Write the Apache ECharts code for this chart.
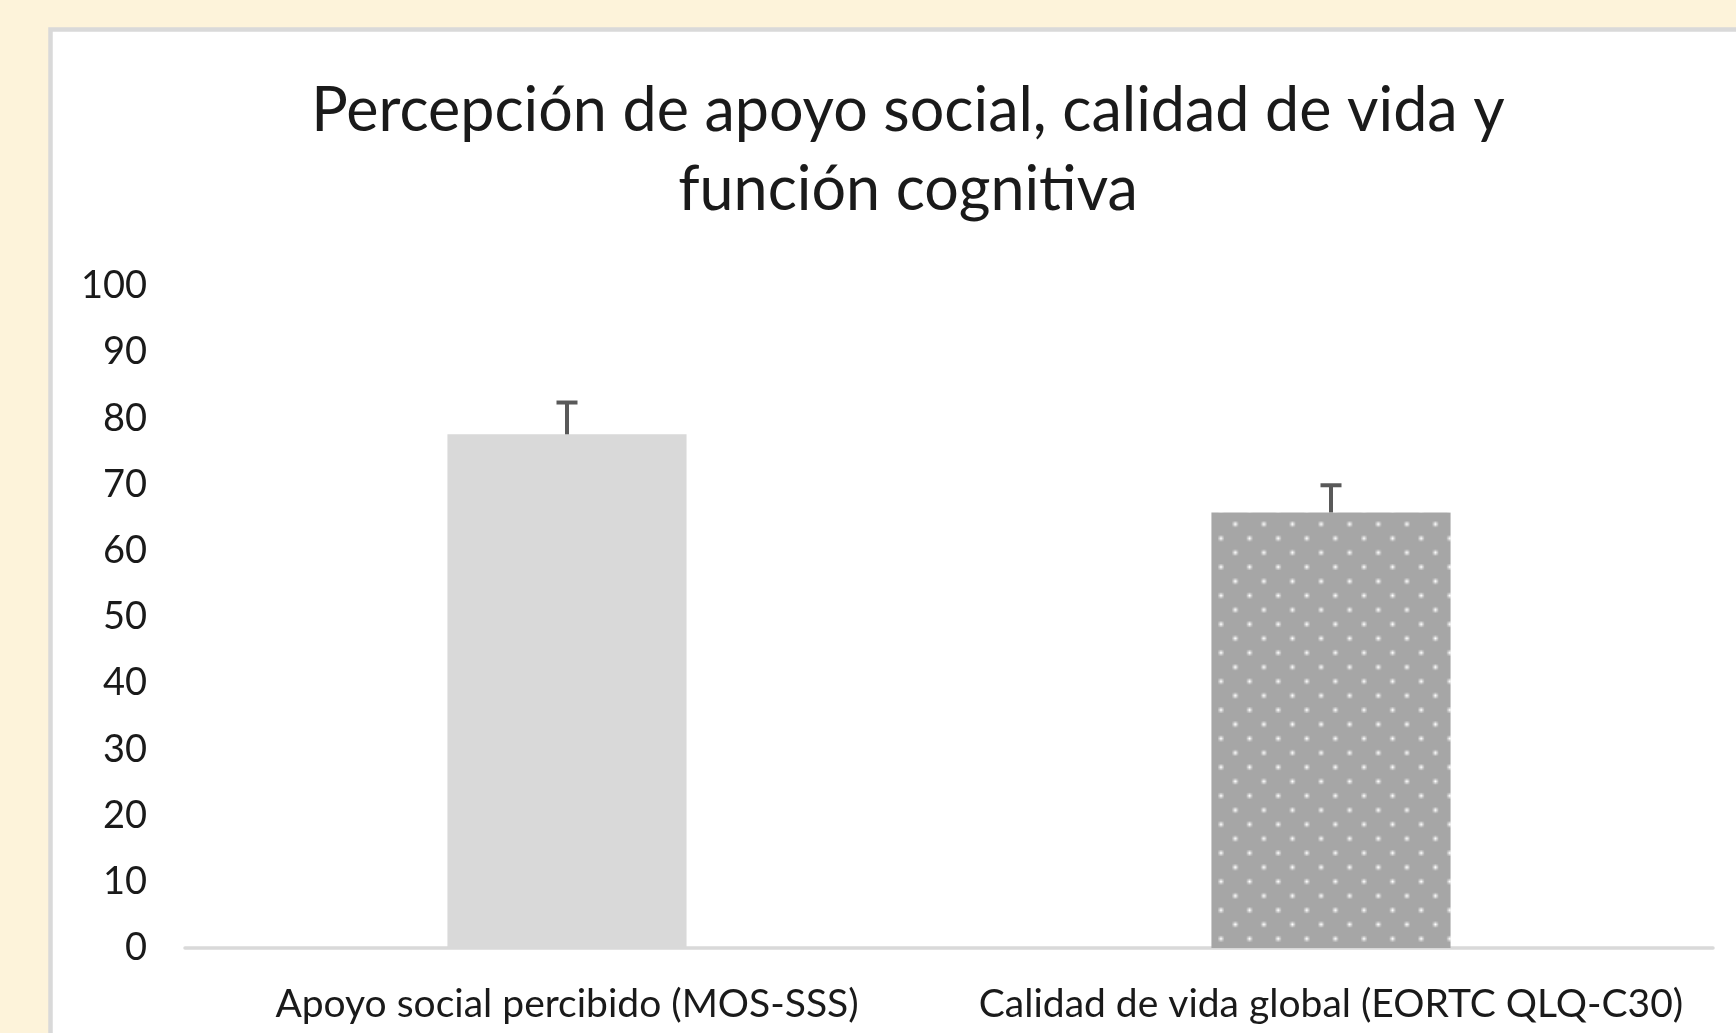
<!DOCTYPE html>
<html>
<head>
<meta charset="utf-8">
<script src="https://cdn.jsdelivr.net/npm/echarts@6/dist/echarts.min.js"></script>
<style>
html,body{margin:0;padding:0;background:#fdf3da;}
#chart{width:1736px;height:1033px;}
</style>
</head>
<body>
<div id="chart"></div>
<script>
const categories = ['Apoyo social percibido (MOS-SSS)', 'Calidad de vida global (EORTC QLQ-C30)'];
const meanValues = [77.6, 65.8];
const errorPlus = [4.8, 4.1];
const yTicks = [0, 10, 20, 30, 40, 50, 60, 70, 80, 90, 100];
const titleText = 'Percepción de apoyo social, calidad de vida y\nfunción cognitiva';

const FONT = 'Lato, "Open Sans", sans-serif';

// dotted pattern tile (Excel-like)
const tile = document.createElement('canvas');
tile.width = 8; tile.height = 8;
const tctx = tile.getContext('2d');
tctx.fillStyle = '#a6a6a6';
tctx.fillRect(0, 0, 8, 8);
tctx.fillStyle = '#ffffff';
tctx.fillRect(1, 1, 1, 1);
tctx.fillRect(5, 5, 1, 1);
const dotted = { image: tile, repeat: 'repeat', x: 0, y: 3.8, scaleX: 3.575, scaleY: 3.575 };

const chart = echarts.init(document.getElementById('chart'), null, { renderer: 'canvas' });
chart.setOption({
  backgroundColor: '#fdf3da',
  animation: false,
  graphic: [
    {
      type: 'rect', z: -10, silent: true,
      shape: { x: 50.5, y: 29.5, width: 1800, height: 1200 },
      style: { fill: '#ffffff', stroke: '#d9d9d9', lineWidth: 4.5 }
    },
    {
      type: 'text', z: 10, silent: true,
      x: 908, y: 151,
      style: {
        text: titleText, font: '61px ' + FONT, fill: '#1a1a1a',
        textAlign: 'center', textVerticalAlign: 'middle', lineHeight: 79
      }
    }
  ],
  grid: { left: 185, right: 23, top: 286, bottom: 85, containLabel: false },
  xAxis: {
    type: 'category', data: categories,
    axisLine: { show: true, lineStyle: { color: '#d9d9d9', width: 3.5 } },
    axisTick: { show: false },
    axisLabel: { color: '#1a1a1a', fontFamily: FONT, fontSize: 39, margin: 37, interval: 0 },
    splitLine: { show: false }
  },
  yAxis: {
    type: 'value', min: 0, max: 100, interval: 10,
    axisLine: { show: false }, axisTick: { show: false },
    splitLine: { show: false },
    axisLabel: { color: '#1a1a1a', fontFamily: FONT, fontSize: 38, margin: 38,
      formatter: v => yTicks.indexOf(v) >= 0 ? String(v) : '' }
  },
  series: [
    {
      type: 'bar', barWidth: '31.3%',
      data: meanValues.map((v, i) => ({
        value: v,
        itemStyle: { color: i === 0 ? '#d9d9d9' : dotted }
      }))
    },
    {
      type: 'custom', z: 5,
      data: meanValues.map((v, i) => [i, v, v + errorPlus[i]]),
      renderItem: function (params, api) {
        const base = api.coord([api.value(0), api.value(1)]);
        const top = api.coord([api.value(0), api.value(2)]);
        const half = 10.5;
        return {
          type: 'group',
          children: [
            { type: 'line', shape: { x1: base[0], y1: base[1], x2: top[0], y2: top[1] },
              style: { stroke: '#595959', lineWidth: 4 } },
            { type: 'line', shape: { x1: top[0] - half, y1: top[1], x2: top[0] + half, y2: top[1] },
              style: { stroke: '#595959', lineWidth: 4 } }
          ]
        };
      }
    }
  ]
});
</script>
</body>
</html>
